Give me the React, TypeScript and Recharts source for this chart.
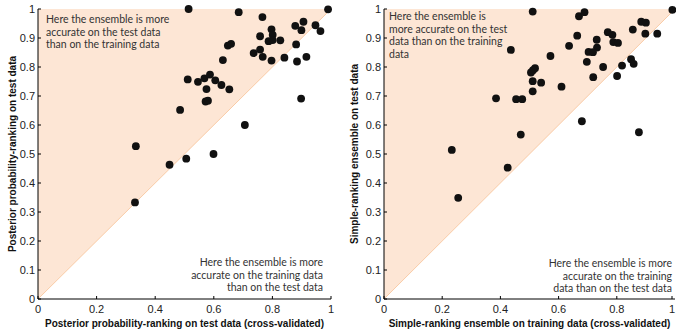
import React from 'react';
import { ComposedChart, Area, Line, Scatter, XAxis, YAxis } from 'recharts';

const leftTrain = [0.514, 0.685, 0.766, 0.99, 0.878, 0.906, 0.899, 0.947, 0.964, 0.797, 0.801, 0.758, 0.787, 0.801, 0.827, 0.881, 0.648, 0.659, 0.736, 0.758, 0.767, 0.797, 0.841, 0.884, 0.916, 0.631, 0.511, 0.546, 0.568, 0.587, 0.605, 0.626, 0.575, 0.653, 0.572, 0.58, 0.485, 0.898, 0.706, 0.334, 0.449, 0.506, 0.599, 0.331];
const leftTest = [1.0, 0.989, 0.972, 0.999, 0.942, 0.956, 0.927, 0.944, 0.924, 0.93, 0.911, 0.906, 0.889, 0.893, 0.892, 0.878, 0.874, 0.88, 0.848, 0.86, 0.835, 0.822, 0.832, 0.819, 0.835, 0.824, 0.757, 0.749, 0.761, 0.774, 0.754, 0.738, 0.724, 0.723, 0.681, 0.684, 0.652, 0.691, 0.6, 0.527, 0.463, 0.484, 0.5, 0.333];

const rightTrain = [0.511, 0.67, 0.689, 0.991, 0.884, 0.9, 0.898, 0.939, 0.855, 0.769, 0.785, 0.664, 0.731, 0.788, 0.804, 0.636, 0.732, 0.703, 0.718, 0.436, 0.572, 0.697, 0.753, 0.818, 0.849, 0.858, 0.801, 0.719, 0.519, 0.512, 0.505, 0.511, 0.54, 0.61, 0.511, 0.385, 0.454, 0.475, 0.68, 0.876, 0.47, 0.233, 0.425, 0.255];
const rightTest = [0.991, 0.975, 0.989, 0.997, 0.956, 0.953, 0.915, 0.915, 0.929, 0.92, 0.911, 0.908, 0.894, 0.886, 0.883, 0.873, 0.867, 0.852, 0.851, 0.859, 0.838, 0.818, 0.8, 0.805, 0.827, 0.811, 0.769, 0.765, 0.796, 0.789, 0.781, 0.751, 0.746, 0.732, 0.716, 0.692, 0.689, 0.689, 0.613, 0.575, 0.567, 0.514, 0.453, 0.349];

const xTicks = [0, 0.2, 0.4, 0.6, 0.8, 1];
const yTicks = [0, 0.1, 0.2, 0.3, 0.4, 0.5, 0.6, 0.7, 0.8, 0.9, 1];

const diagonal = [
  { x: 0, y: 0, band: [0, 1] },
  { x: 1, y: 1, band: [1, 1] },
];

const leftPoints = leftTrain.map((x, i) => ({ x, y: leftTest[i] }));
const rightPoints = rightTrain.map((x, i) => ({ x, y: rightTest[i] }));

const tickFont = '"Liberation Sans", Arial, sans-serif';

const YTick = (props: any) => {
  const { x, y, payload } = props;
  return (
    <g>
      <text x={x} y={y} dy={4} textAnchor="end" fontSize={11} fill="#222" fontFamily={tickFont}>
        {String(payload.value)}
      </text>
      <line x1={x + 3} x2={x + 6} y1={y} y2={y} stroke="#000" strokeWidth={1} />
    </g>
  );
};

const XTick = (props: any) => {
  const { x, y, payload } = props;
  return (
    <g>
      <text x={x} y={y} dy={10} textAnchor="middle" fontSize={11} fill="#222" fontFamily={tickFont}>
        {String(payload.value)}
      </text>
      <line x1={x} x2={x} y1={y - 4} y2={y - 7} stroke="#000" strokeWidth={1} />
    </g>
  );
};

const Dot = (props: any) => <circle cx={props.cx} cy={props.cy} r={3.9} fill="#111" />;

const labelStyle = { fontFamily: tickFont, fontWeight: 700, fontSize: 10, fill: '#111' };

function Panel(props: { points: { x: number; y: number }[]; xLabel: string; yLabel: string; yAxisWidth: number; right: number; yLabelOffset: number }) {
  return (
    <ComposedChart
      width={336}
      height={334}
      data={diagonal}
      margin={{ top: 9, right: props.right, bottom: 0, left: 0 }}
      style={{ overflow: 'visible' }}
    >
      <XAxis
        type="number"
        dataKey="x"
        domain={[0, 1]}
        ticks={xTicks}
        tick={<XTick />}
        tickLine={false}
        tickSize={0}
        tickMargin={4}
        height={35}
        axisLine={{ stroke: '#000' }}
        label={{ value: props.xLabel, position: 'insideBottom', offset: 7, style: { ...labelStyle, textAnchor: 'middle' } }}
      />
      <YAxis
        type="number"
        dataKey="y"
        domain={[0, 1]}
        ticks={yTicks}
        tick={<YTick />}
        tickLine={false}
        tickSize={0}
        tickMargin={3}
        width={props.yAxisWidth}
        axisLine={{ stroke: '#000' }}
        label={{ value: props.yLabel, angle: -90, position: 'insideLeft', offset: props.yLabelOffset, style: { ...labelStyle, textAnchor: 'middle' } }}
      />
      <Area type="linear" dataKey="band" fill="#fde6d5" fillOpacity={1} stroke="none" isAnimationActive={false} />
      <Line type="linear" dataKey="y" stroke="#f9cba6" strokeWidth={1} dot={false} isAnimationActive={false} />
      <Scatter data={props.points} shape={<Dot />} isAnimationActive={false} />
    </ComposedChart>
  );
}

const noteStyle: React.CSSProperties = {
  position: 'absolute',
  fontFamily: 'Lato, "Open Sans", sans-serif',
  fontSize: 10.5,
  lineHeight: '12.5px',
  color: '#333',
  whiteSpace: 'nowrap',
};

export default function App() {
  return (
    <div style={{ position: 'absolute', left: 0, top: 0, width: 676, height: 334, overflow: 'hidden', background: '#fff' }}>
      <div style={{ position: 'absolute', left: 0, top: 0 }}>
        <Panel
          points={leftPoints}
          xLabel="Posterior probability-ranking on test data (cross-validated)"
          yLabel="Posterior probability-ranking on test data"
          yAxisWidth={38}
          right={5}
          yLabelOffset={12}
        />
      </div>
      <div style={{ position: 'absolute', left: 340, top: 0 }}>
        <Panel
          points={rightPoints}
          xLabel="Simple-ranking ensemble on training data (cross-validated)"
          yLabel="Simple-ranking ensemble on test data"
          yAxisWidth={44}
          right={1}
          yLabelOffset={14}
        />
      </div>
      <div style={{ ...noteStyle, left: 46, top: 13 }}>
        Here the ensemble is more<br />accurate on the test data<br />than on the training data
      </div>
      <div style={{ ...noteStyle, right: 676 - 323, top: 256, textAlign: 'right' }}>
        Here the ensemble is more<br />accurate on the training data<br />than on the test data
      </div>
      <div style={{ ...noteStyle, left: 389, top: 10 }}>
        Here the ensemble is<br />more accurate on the test<br />data than on the training<br />data
      </div>
      <div style={{ ...noteStyle, right: 676 - 672, top: 257, textAlign: 'right' }}>
        Here the ensemble is more<br />accurate on the training<br />data than on the test data
      </div>
    </div>
  );
}
